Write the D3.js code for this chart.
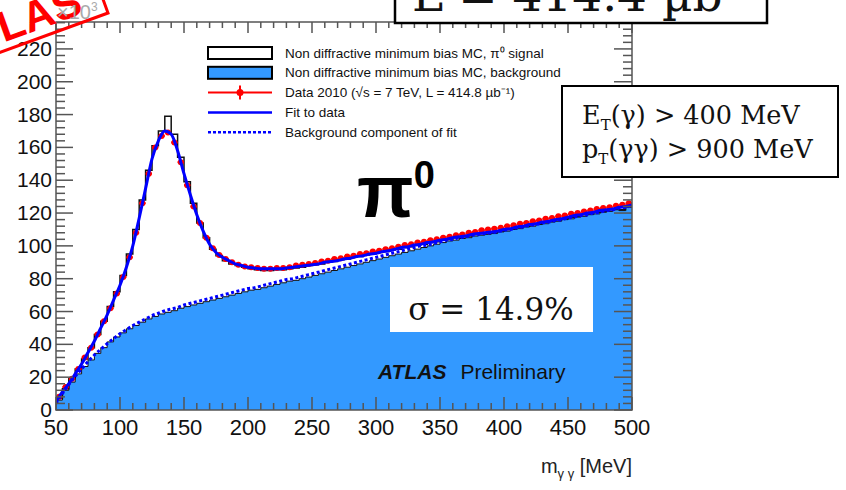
<!DOCTYPE html>
<html>
<head>
<meta charset="utf-8">
<script src="https://cdn.jsdelivr.net/npm/d3@7"></script>
<style>
  body { margin: 0; background: #fff; }
  svg { display: block; }
  text { font-family: "Liberation Sans", Arial, sans-serif; }
  .serif { font-family: "DejaVu Serif", "Liberation Serif", serif; }
</style>
</head>
<body>
<div id="chart"></div>
<script>
// Binning (MeV): 90 bins of 5 MeV, 50 -> 500
const binEdges = d3.range(50, 505, 5);

// Data 2010 (x10^3 entries per bin)
const dataVals = [
  8, 14, 19, 25, 32, 38, 46, 54, 62, 71,
  81, 93, 108, 126, 144, 160, 167, 169, 163, 151,
  137, 124, 114, 105, 98.5, 94.5, 92, 90, 88.5, 87.5,
  87, 86.5, 86, 86, 86.5, 86.5, 87, 88, 88.5, 89,
  89.5, 90.5, 91, 92, 92.5, 93.5, 94, 95, 95.5, 96.5,
  97, 98, 98.5, 99.5, 100.5, 101, 102, 102.5, 103.5, 104,
  105, 105.5, 106.5, 107, 108, 108.5, 109.5, 110, 110.5, 111,
  112, 112.5, 113.5, 114, 115, 115.5, 116.5, 117, 118, 118.5,
  119.5, 120, 121, 121.5, 122.5, 123, 123.5, 124.5, 125, 126
];

// MC signal + background (black outline)
const mcTotal = [
  7, 13, 19, 25, 31, 38, 46, 54, 63, 72,
  82, 95, 110, 128, 146, 161, 170, 179, 168, 154,
  139, 126, 114, 105, 98, 94, 91, 89, 88, 87,
  86, 85.5, 85, 85, 85.5, 85.5, 86, 86.5, 87, 88,
  88.5, 89, 90, 90.5, 91.5, 92, 93, 93.5, 94.5, 95,
  96, 96.5, 97.5, 98, 99, 99.5, 100.5, 101, 102, 102.5,
  103.5, 104, 105, 105.5, 106, 107, 107.5, 108, 108.5, 109,
  110, 110.5, 111.5, 112, 113, 113.5, 114.5, 115, 116, 116.5,
  117.5, 118, 119, 119.5, 120.5, 121, 122, 122.5, 122, 124
];

// MC background (blue filled)
const mcBkg = [
  6, 12, 17, 22, 26.5, 30.5, 34.5, 38, 41.5, 44.5,
  47, 49.5, 51.5, 53.5, 55.5, 57, 58.5, 59.5, 60.5, 62,
  63, 64, 65, 66, 67, 68, 69, 70, 71, 72,
  73, 73.5, 74.5, 75.5, 76.5, 77.5, 78.5, 79, 80, 81,
  82, 83, 84, 85, 86, 87, 88, 89, 90, 91,
  92, 93, 94, 95, 96, 97, 98, 99, 100, 101,
  102, 103, 103.5, 104.5, 105, 106, 106.5, 107, 107.5, 108.5,
  109, 110, 110.5, 111.5, 112, 113, 113.5, 114.5, 115, 116,
  116.5, 117.5, 118, 119, 119.5, 120.5, 121, 122, 121.5, 123.5
];

// Fit curves sampled every 5 MeV from 50 to 500
const fitMass = d3.range(50, 505, 5);
const fitTotal = [
  5, 11, 16, 22, 28, 35, 42, 50, 58, 67,
  76, 87, 100, 117, 135, 153, 164, 170, 168, 158,
  144, 131, 119, 109, 101, 96, 93, 91, 89, 88,
  87, 86.5, 86, 86, 86, 86, 86.5, 87, 87.5, 88,
  88.5, 89, 90, 90.5, 91, 92, 92.5, 93.5, 94, 95,
  95.5, 96.5, 97, 98, 99, 99.5, 100.5, 101, 102, 102.5,
  103.5, 104, 105, 105.5, 106, 107, 107.5, 108, 108.5, 109,
  110, 110.5, 111.5, 112, 113, 113.5, 114.5, 115, 116, 116.5,
  117.5, 118.5, 119, 120, 120.5, 121.5, 122, 122.5, 123.5, 124,
  125
];
const fitBkg = [
  4, 10, 15.5, 20.5, 25, 29.5, 33.5, 37, 40.5, 43.5,
  46.5, 49, 51.5, 53.5, 55.5, 57.5, 59, 60.5, 61.5, 62.5,
  64, 65, 66, 67, 68, 69, 70, 71, 72, 73,
  74, 74.5, 75.5, 76.5, 77.5, 78.5, 79.5, 80, 81, 82,
  83, 84, 85, 86, 87, 88, 89, 90, 91, 92,
  93, 94, 95, 96, 97, 98, 99, 100, 100.5, 101.5,
  102.5, 103.5, 104, 105, 105.5, 106.5, 107, 107.5, 108, 108.5,
  109.5, 110, 111, 111.5, 112.5, 113, 114, 114.5, 115.5, 116,
  117, 117.5, 118.5, 119, 120, 120.5, 121.5, 122, 123, 123.5,
  124.5
];

const xTicks = [50, 100, 150, 200, 250, 300, 350, 400, 450, 500];
const yTicks = [0, 20, 40, 60, 80, 100, 120, 140, 160, 180, 200, 220];

const legendItems = [
  { key: "sig", label: "Non diffractive minimum bias MC, π⁰ signal" },
  { key: "bkg", label: "Non diffractive minimum bias MC, background" },
  { key: "data", label: "Data 2010 (√s = 7 TeV, L = 414.8 µb⁻¹)" },
  { key: "fit", label: "Fit to data" },
  { key: "fitbkg", label: "Background component of fit" }
];

const W = 846, H = 490;
const frame = { left: 56, right: 632, top: 22, bottom: 410 };
const BLUE_FILL = "#3399ff";

const svg = d3.select("#chart").append("svg")
  .attr("width", W).attr("height", H);

const x = d3.scaleLinear().domain([50, 500]).range([frame.left, frame.right]);
const y = d3.scaleLinear().domain([0, 236.4]).range([frame.bottom, frame.top]);

svg.append("clipPath").attr("id", "plotclip")
  .append("rect")
  .attr("x", frame.left).attr("y", frame.top)
  .attr("width", frame.right - frame.left).attr("height", frame.bottom - frame.top);

const plot = svg.append("g").attr("clip-path", "url(#plotclip)");

// histogram step points (last bin repeated at the right edge)
function steps(vals) {
  const pts = vals.map((v, i) => [binEdges[i], v]);
  pts.push([binEdges[vals.length], vals[vals.length - 1]]);
  return pts;
}

// MC background filled
plot.append("path")
  .datum(steps(mcBkg))
  .attr("fill", BLUE_FILL)
  .attr("d", d3.area().curve(d3.curveStepAfter)
    .x(d => x(d[0])).y0(y(0)).y1(d => y(d[1])));

plot.append("path")
  .datum(steps(mcBkg))
  .attr("fill", "none").attr("stroke", "#111").attr("stroke-width", 1)
  .attr("d", d3.line().curve(d3.curveStepAfter).x(d => x(d[0])).y(d => y(d[1])));

// MC signal + background outline
plot.append("path")
  .datum(steps(mcTotal))
  .attr("fill", "none").attr("stroke", "#111").attr("stroke-width", 1.5)
  .attr("d", d3.line().curve(d3.curveStepAfter).x(d => x(d[0])).y(d => y(d[1])));

// data points
const dataPts = dataVals.map((v, i) => ({ lo: binEdges[i], hi: binEdges[i + 1], v }));
const dg = plot.append("g");
dg.selectAll("line.xerr").data(dataPts).join("line")
  .attr("x1", d => x(d.lo)).attr("x2", d => x(d.hi))
  .attr("y1", d => y(d.v)).attr("y2", d => y(d.v))
  .attr("stroke", "#ff0000").attr("stroke-width", 2);
dg.selectAll("circle").data(dataPts).join("circle")
  .attr("cx", d => x((d.lo + d.hi) / 2)).attr("cy", d => y(d.v))
  .attr("r", 3).attr("fill", "#ff0000");

// fit curves
const fitLine = d3.line().curve(d3.curveMonotoneX)
  .x((d, i) => x(fitMass[i])).y(d => y(d));
plot.append("path").datum(fitTotal)
  .attr("fill", "none").attr("stroke", "#0000ff").attr("stroke-width", 3)
  .attr("d", fitLine);
plot.append("path").datum(fitBkg)
  .attr("fill", "none").attr("stroke", "#0000ff").attr("stroke-width", 3)
  .attr("stroke-dasharray", "3,2.5")
  .attr("d", fitLine);

// axes (ROOT style, ticks inside on all four sides)
const axisColor = "#555";
const ax = svg.append("g").attr("stroke", axisColor);
ax.append("rect")
  .attr("x", frame.left).attr("y", frame.top)
  .attr("width", frame.right - frame.left).attr("height", frame.bottom - frame.top)
  .attr("fill", "none").attr("stroke-width", 1.5);

const xMinor = d3.range(50, 501, 10);
const yMinor = d3.range(0, 237, 4);
xMinor.forEach(v => {
  const major = v % 50 === 0;
  ax.append("line").attr("x1", x(v)).attr("x2", x(v))
    .attr("y1", frame.bottom).attr("y2", frame.bottom - (major ? 13 : 7)).attr("stroke-width", 1.5);
  ax.append("line").attr("x1", x(v)).attr("x2", x(v))
    .attr("y1", frame.top).attr("y2", frame.top + (major ? 11 : 6)).attr("stroke-width", 1.5);
});
yMinor.forEach(v => {
  const major = v % 20 === 0;
  ax.append("line").attr("y1", y(v)).attr("y2", y(v))
    .attr("x1", frame.left).attr("x2", frame.left + (major ? 17 : 9)).attr("stroke-width", 1.5);
  ax.append("line").attr("y1", y(v)).attr("y2", y(v))
    .attr("x1", frame.right).attr("x2", frame.right - (major ? 18 : 9)).attr("stroke-width", 1.5);
});

svg.append("g").selectAll("text").data(xTicks).join("text")
  .attr("x", d => x(d)).attr("y", 435)
  .attr("text-anchor", "middle").attr("font-size", 22).attr("fill", "#111")
  .text(d => d);
svg.append("g").selectAll("text").data(yTicks).join("text")
  .attr("x", 52).attr("y", d => y(d) + 7)
  .attr("text-anchor", "end").attr("font-size", 21).attr("fill", "#111")
  .text(d => d);

const xt = svg.append("text").attr("x", 632).attr("y", 473)
  .attr("text-anchor", "end").attr("font-size", 20).attr("fill", "#222");
xt.append("tspan").text("m");
xt.append("tspan").attr("dy", 5).attr("font-size", 13).text("γ γ");
xt.append("tspan").attr("dy", -5).text(" [MeV]");

// legend
const lg = svg.append("g");
legendItems.forEach((it, i) => {
  const cy = 53 + i * 19.8;
  if (it.key === "sig" || it.key === "bkg") {
    lg.append("rect").attr("x", 208).attr("y", cy - 6).attr("width", 64).attr("height", 12)
      .attr("fill", it.key === "sig" ? "#fff" : BLUE_FILL)
      .attr("stroke", "#000").attr("stroke-width", 2);
  } else if (it.key === "data") {
    lg.append("line").attr("x1", 208).attr("x2", 272).attr("y1", cy).attr("y2", cy)
      .attr("stroke", "#ff0000").attr("stroke-width", 2);
    lg.append("line").attr("x1", 240).attr("x2", 240).attr("y1", cy - 7).attr("y2", cy + 7)
      .attr("stroke", "#ff0000").attr("stroke-width", 2);
    lg.append("circle").attr("cx", 240).attr("cy", cy).attr("r", 3.5).attr("fill", "#ff0000");
  } else {
    lg.append("line").attr("x1", 208).attr("x2", 272).attr("y1", cy).attr("y2", cy)
      .attr("stroke", "#0000ff").attr("stroke-width", 2.5)
      .attr("stroke-dasharray", it.key === "fitbkg" ? "3,2" : null);
  }
  lg.append("text").attr("x", 285).attr("y", cy + 4.5)
    .attr("font-size", 13.5).attr("fill", "#111").text(it.label);
});

// pi0 label
const pi = svg.append("text").attr("x", 357).attr("y", 217)
  .attr("font-family", "DejaVu Sans").attr("font-weight", "bold").attr("fill", "#000");
pi.append("tspan").attr("font-size", 74).text("π");
pi.append("tspan").attr("font-size", 38).attr("dy", -29).attr("font-family", "Liberation Sans").text("0");

// sigma box
svg.append("rect").attr("x", 390).attr("y", 267).attr("width", 203).attr("height", 65).attr("fill", "#fff");
svg.append("text").attr("class", "serif").attr("x", 491).attr("y", 320)
  .attr("text-anchor", "middle").attr("font-size", 31).attr("fill", "#111")
  .text("σ = 14.9%");

// ATLAS Preliminary
const at = svg.append("text").attr("x", 378).attr("y", 379).attr("font-size", 21).attr("fill", "#111");
at.append("tspan").attr("font-weight", "bold").attr("font-style", "italic").text("ATLAS");
at.append("tspan").attr("dx", 14).text("Preliminary");

// cuts box
svg.append("rect").attr("x", 562).attr("y", 86).attr("width", 276).attr("height", 91)
  .attr("fill", "#fff").attr("stroke", "#000").attr("stroke-width", 2);
const c1 = svg.append("text").attr("class", "serif").attr("x", 582).attr("y", 124)
  .attr("font-size", 25.5).attr("fill", "#111");
c1.append("tspan").text("E");
c1.append("tspan").attr("dy", 6).attr("font-size", 15).text("T");
c1.append("tspan").attr("dy", -6).text("(γ) > 400 MeV");
const c2 = svg.append("text").attr("class", "serif").attr("x", 582).attr("y", 158)
  .attr("font-size", 25.5).attr("fill", "#111");
c2.append("tspan").text("p");
c2.append("tspan").attr("dy", 6).attr("font-size", 15).text("T");
c2.append("tspan").attr("dy", -6).text("(γγ) > 900 MeV");

// luminosity box (cut by the top edge)
svg.append("rect").attr("x", 395).attr("y", -10).attr("width", 372).attr("height", 33)
  .attr("fill", "#fff").attr("stroke", "#000").attr("stroke-width", 2.5);
const lum = svg.append("text").attr("class", "serif").attr("x", 412).attr("y", 11)
  .attr("font-size", 47).attr("fill", "#111");
lum.append("tspan").text("L = 414.4 µb");
lum.append("tspan").attr("dy", -24).attr("font-size", 28).text("−1");

// red stamp in the corner
const st = svg.append("g").attr("transform", "translate(108,13) rotate(-20)");
st.append("rect").attr("x", -300).attr("y", -64).attr("width", 300).attr("height", 64)
  .attr("fill", "none").attr("stroke", "#ff0000").attr("stroke-width", 3);
st.append("text").attr("x", -22).attr("y", -8).attr("text-anchor", "end")
  .attr("font-family", "Liberation Serif").attr("font-weight", "bold")
  .attr("font-size", 43).attr("fill", "#ff0000").text("ATLAS");

// exponent label drawn over the stamp
svg.append("text").attr("x", 57).attr("y", 19)
  .attr("font-size", 20).attr("fill", "#aaa")
  .html('×10<tspan dy="-8" font-size="12">3</tspan>');
</script>
</body>
</html>
